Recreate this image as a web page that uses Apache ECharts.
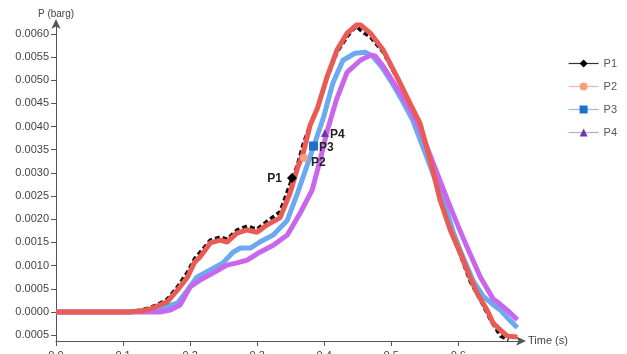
<!DOCTYPE html>
<html><head><meta charset="utf-8">
<script src="https://cdn.jsdelivr.net/npm/echarts@6/dist/echarts.min.js"></script>
<style>html,body{margin:0;padding:0;background:#fff}#c{width:627px;height:354px}</style>
</head><body><div id="c"></div>
<script>
const seriesNames = ['P1', 'P2', 'P3', 'P4'];
const yTickValues = [-0.0005, 0, 0.0005, 0.001, 0.0015, 0.002, 0.0025, 0.003, 0.0035, 0.004, 0.0045, 0.005, 0.0055, 0.006];
const xTickValues = [0, 0.1, 0.2, 0.3, 0.4, 0.5, 0.6];

const p1 = [[0,0],[0.110,0],[0.125,0.00004],[0.140,0.00009],[0.155,0.00019],[0.166,0.00028],[0.181,0.00054],[0.196,0.00086],[0.207,0.00116],[0.215,0.00129],[0.230,0.00155],[0.245,0.00162],[0.255,0.00157],[0.270,0.00177],[0.285,0.00185],[0.300,0.00179],[0.315,0.00196],[0.334,0.00216],[0.349,0.00276],[0.360,0.00317],[0.369,0.00364],[0.379,0.00403],[0.390,0.00440],[0.404,0.00504],[0.419,0.00560],[0.434,0.00593],[0.442,0.00608],[0.448,0.00616],[0.454,0.00608],[0.460,0.00601],[0.469,0.00593],[0.488,0.00560],[0.509,0.00504],[0.528,0.00450],[0.543,0.00403],[0.558,0.00323],[0.573,0.00241],[0.588,0.00177],[0.603,0.00123],[0.618,0.00065],[0.633,0.00026],[0.648,-0.00017],[0.663,-0.00052],[0.675,-0.00060]];
const p2 = [[0,0],[0.110,0],[0.125,0.00002],[0.140,0.00006],[0.155,0.00015],[0.166,0.00022],[0.181,0.00047],[0.196,0.00075],[0.207,0.00108],[0.215,0.00119],[0.230,0.00149],[0.245,0.00155],[0.255,0.00151],[0.270,0.00170],[0.285,0.00177],[0.300,0.00172],[0.315,0.00188],[0.334,0.00203],[0.349,0.00256],[0.360,0.00310],[0.369,0.00345],[0.379,0.00403],[0.390,0.00440],[0.404,0.00506],[0.419,0.00565],[0.434,0.00601],[0.451,0.00623],[0.460,0.00612],[0.469,0.00601],[0.488,0.00565],[0.509,0.00506],[0.528,0.00450],[0.543,0.00407],[0.558,0.00328],[0.573,0.00241],[0.588,0.00177],[0.603,0.00127],[0.618,0.00073],[0.628,0.00041],[0.643,0.00004],[0.652,-0.00024],[0.663,-0.00039],[0.673,-0.00052],[0.688,-0.00054]];
const p3 = [[0,0],[0.110,0],[0.140,0.00004],[0.163,0.00011],[0.181,0.00019],[0.196,0.00047],[0.210,0.00075],[0.230,0.00091],[0.249,0.00106],[0.264,0.00129],[0.275,0.00138],[0.290,0.00138],[0.304,0.00151],[0.324,0.00166],[0.345,0.00198],[0.360,0.00256],[0.384,0.00356],[0.399,0.00420],[0.413,0.00494],[0.428,0.00543],[0.446,0.00558],[0.461,0.00560],[0.472,0.00552],[0.486,0.00528],[0.500,0.00497],[0.516,0.00457],[0.532,0.00414],[0.549,0.00349],[0.563,0.00296],[0.578,0.00241],[0.593,0.00170],[0.607,0.00118],[0.622,0.00068],[0.637,0.00034],[0.651,0.00017],[0.663,0.00004],[0.675,-0.00015],[0.688,-0.00034]];
const p4 = [[0,0],[0.155,0],[0.170,0.00004],[0.185,0.00015],[0.200,0.00054],[0.215,0.00069],[0.234,0.00084],[0.255,0.00101],[0.270,0.00106],[0.285,0.00112],[0.304,0.00129],[0.324,0.00144],[0.345,0.00166],[0.364,0.00213],[0.382,0.00263],[0.394,0.00328],[0.404,0.00388],[0.418,0.00457],[0.434,0.00517],[0.454,0.00543],[0.469,0.00554],[0.476,0.00552],[0.488,0.00530],[0.503,0.00496],[0.520,0.00457],[0.539,0.00407],[0.555,0.00349],[0.584,0.00241],[0.599,0.00188],[0.613,0.00140],[0.633,0.00075],[0.652,0.00028],[0.663,0.00016],[0.673,0.00004],[0.688,-0.00017]];
const markerPoints = [[0.352, 0.00289], [0.370, 0.00332], [0.384, 0.00358], [0.401, 0.00386]];

const curveColors = ['#111111', '#e95c55', '#6da9f0', '#c867ee'];
const markerColors = ['#000000', '#f2a27f', '#1f70c8', '#6a3aa8'];
const legendLineColors = ['#333333', '#f4b59c', '#8fbce8', '#c7a0dc'];
const markerSymbols = ['diamond', 'circle', 'rect', 'triangle'];
const markerSizes = [10, 8, 9, 8];
const labelPos = ['left', 'right', 'right', 'right'];
const labelOffset = [[0, 1], [-2, 5], [-4, 2], [-4, 2]];
const lineWidths = [3.5, 5, 5, 5];
const zs = [2, 3, 2, 2];
const allData = [p1, p2, p3, p4];

const font = 'Liberation Sans, Arial, sans-serif';
const chart = echarts.init(document.getElementById('c'), null, {renderer: 'canvas'});
chart.setOption({
  animation: false,
  backgroundColor: '#fff',
  grid: {left: 56, right: 107, top: 25, bottom: 13, containLabel: false, outerBoundsMode: 'none'},
  legend: {
    orient: 'vertical', left: 563, top: 53,
    itemWidth: 30, itemHeight: 10, itemGap: 12,
    textStyle: {fontFamily: font, fontSize: 11, color: '#555'},
    data: seriesNames.map((n, i) => ({
      name: n,
      itemStyle: {color: markerColors[i]},
      lineStyle: {color: legendLineColors[i], width: 1.2, type: 'solid'}
    }))
  },
  xAxis: {
    type: 'value', min: 0, max: 0.692, interval: 0.1,
    name: 'Time (s)', nameLocation: 'end', nameGap: 8,
    nameTextStyle: {fontFamily: font, fontSize: 11, color: '#444', verticalAlign: 'middle'},
    axisLine: {show: true, onZero: false, lineStyle: {color: '#555', width: 1}, symbol: ['none', 'arrow'], symbolSize: [7, 10], symbolOffset: [0, 6]},
    axisTick: {show: true, length: 5, lineStyle: {color: '#555'}, customValues: xTickValues},
    axisLabel: {fontFamily: font, fontSize: 11, color: '#444', margin: 9, customValues: xTickValues, formatter: v => v.toFixed(1)},
    splitLine: {show: false}
  },
  yAxis: {
    type: 'value', min: -0.000625, max: 0.00619,
    name: 'P (barg)', nameLocation: 'end', nameGap: 6,
    nameTextStyle: {fontFamily: font, fontSize: 10, color: '#444', align: 'center'},
    axisLine: {show: true, onZero: false, lineStyle: {color: '#555', width: 1}, symbol: ['none', 'arrow'], symbolSize: [7, 10], symbolOffset: [0, 6]},
    axisTick: {show: true, length: 5, lineStyle: {color: '#555'}, customValues: yTickValues},
    axisLabel: {fontFamily: font, fontSize: 11, color: '#444', margin: 7, customValues: yTickValues,
      formatter: v => Math.abs(v).toFixed(4)},
    splitLine: {show: false}
  },
  series: seriesNames.map((n, i) => ({
    name: n, type: 'line', data: allData[i], z: zs[i],
    showSymbol: false, symbol: markerSymbols[i], symbolSize: markerSizes[i],
    itemStyle: {color: markerColors[i]},
    lineStyle: {color: curveColors[i], width: lineWidths[i], type: i === 0 ? [5, 3] : 'solid'},
    markPoint: {
      symbol: markerSymbols[i], symbolSize: markerSizes[i],
      itemStyle: {color: markerColors[i]},
      label: {show: true, position: labelPos[i], offset: labelOffset[i], formatter: n,
        fontFamily: font, fontSize: 12, fontWeight: 'bold', color: '#222'},
      data: [{coord: markerPoints[i]}]
    }
  }))
});
</script></body></html>
